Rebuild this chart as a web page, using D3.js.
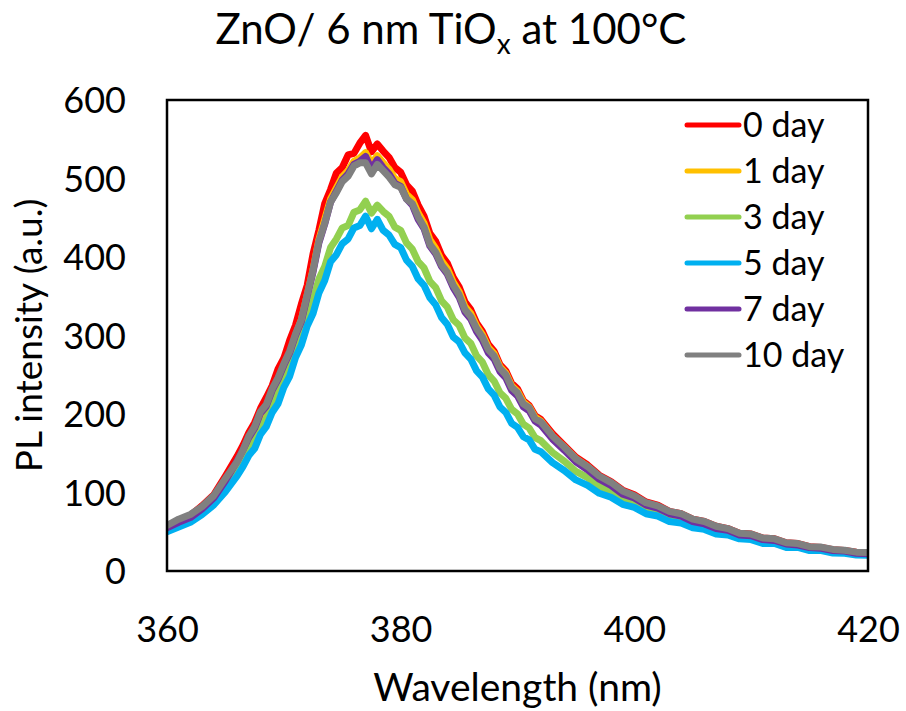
<!DOCTYPE html>
<html>
<head>
<meta charset="utf-8">
<script src="https://cdn.jsdelivr.net/npm/d3@7"></script>
<style>
  html, body { margin: 0; padding: 0; background: #fff; }
  svg text { font-family: Lato, "Open Sans", "Liberation Sans", sans-serif; fill: #000; }
</style>
</head>
<body>
<svg id="chart" width="906" height="711"></svg>
<script>
// Photoluminescence spectra of ZnO / 6 nm TiOx annealed at 100 °C, measured over 10 days
const wavelength = [360,361,362,363,364,365,366,
  366.5,367,367.5,368,368.5,369,369.5,370,370.5,371,371.5,372,372.5,373,373.5,374,374.5,375,375.5,376,
  376.5,377,377.5,378,378.5,379,379.5,380,380.5,381,381.5,382,382.5,383,383.5,384,384.5,385,385.5,386,
  386.5,387,387.5,388,388.5,389,389.5,390,390.5,391,391.5,392,
  393,394,395,396,397,398,399,400,401,402,403,404,405,406,407,408,409,410,411,412,413,414,415,416,417,418,419,420];

const day0 = [56,64,71,83,97,121,146,
  160,176,189,207,221,236,257,271,294,313,340,364,404,434,468,486,507,514,530,532,
  545,555,534,544,535,527,514,508,492,484,466,452,430,420,402,392,374,362,343,333,
  316,305,289,280,263,255,239,232,217,211,198,193,
  175,160,145,135,122,114,103,97,88,84,76,73,66,63,57,54,48,47,42,41,36,35,31,30,27,26,24,23];

const day1 = [54,61,67,78,91,112,137,
  150,166,177,196,206,226,240,260,276,300,320,352,384,422,448,474,488,502,510,522,
  526,533,519,529,520,512,500,496,480,473,456,443,422,411,395,385,368,356,337,328,
  312,301,285,277,260,252,236,229,215,209,196,191,
  172,158,143,133,120,112,101,95,86,82,74,71,64,62,55,53,47,46,41,40,35,34,30,29,26,25.5,23,22.5];

const day3 = [52,58,65,75,88,106,127,
  140,155,165,183,194,213,225,247,261,285,301,327,345,372,388,412,423,437,440,457,
  460,471,456,466,458,452,438,434,418,410,394,386,369,361,344,336,320,313,297,290,
  274,266,250,242,227,220,206,200,187,182,170,166,
  151,140,127,119,108,102,93,88,80,76,69,66,60,58,52,50,45,44,39,38,34,33,29,28.5,25.5,25,22.5,22];

const day5 = [50,56,62,72,84,101,121,
  133,147,156,174,184,202,213,234,248,272,288,312,328,354,370,394,403,417,423,437,
  440,452,436,448,434,428,416,412,396,388,372,364,348,339,323,314,298,292,278,270,
  255,247,232,224,209,202,188,183,171,167,155,152,
  138,128,116,109,99,94,85,81,73,70,63,61,55,53,47,46,41,40,35,35,30,30,26,26,23,22.5,20.5,20];

const day7 = [55,62,68,79,93,115,140,
  154,170,182,201,210,230,244,262,278,300,318,350,381,418,442,470,484,498,506,518,
  522,528,512,524,514,506,494,490,474,466,448,436,414,404,388,378,361,349,330,321,
  305,294,278,270,254,246,230,223,209,204,191,186,
  168,154,139,129,117,109,98,93,84,80,73,70,63,60,54,52,46,45,40,39,34.5,33,30,29,26,25.5,22.5,22];

const day10 = [58,66,72,82,96,118,139,
  154,172,184,203,212,232,246,264,280,302,320,352,383,420,443,470,482,496,503,516,
  520,520,506,518,510,502,492,489,474,468,451,438,416,406,390,380,364,352,333,324,
  309,298,282,274,258,250,234,227,213,208,194,190,
  172,158,143,133,121,113,102,96,87,83,76,73,66,63,57,54,48,47,42,41,36,35,31,30.5,27.5,26.5,24,23.5];

const seriesNames = ["0 day", "1 day", "3 day", "5 day", "7 day", "10 day"];
const seriesColors = ["#FF0000", "#FFC000", "#92D050", "#00B0F0", "#7030A0", "#808080"];
const seriesValues = [day0, day1, day3, day5, day7, day10];

const xTicks = [360, 380, 400, 420];
const yTicks = [0, 100, 200, 300, 400, 500, 600];

const svg = d3.select("#chart");
const plot = { left: 167, right: 868, top: 100, bottom: 571 };

const x = d3.scaleLinear().domain([360, 420]).range([plot.left, plot.right]);
const y = d3.scaleLinear().domain([0, 600]).range([plot.bottom, plot.top]);

svg.append("defs").append("clipPath").attr("id", "plot-clip")
  .append("rect")
  .attr("x", plot.left).attr("y", plot.top)
  .attr("width", plot.right - plot.left).attr("height", plot.bottom - plot.top);

// spectra, drawn in series order so the last day sits on top
const line = d3.line()
  .x((d, i) => x(wavelength[i]))
  .y(d => y(d));

const curves = svg.append("g").attr("clip-path", "url(#plot-clip)");
seriesValues.forEach((vals, k) => {
  curves.append("path")
    .datum(vals)
    .attr("d", line)
    .attr("fill", "none")
    .attr("stroke", seriesColors[k])
    .attr("stroke-width", 7)
    .attr("stroke-linejoin", "round")
    .attr("stroke-linecap", "round");
});

// axes: labels only, the plot frame is drawn separately
const xAxis = svg.append("g")
  .attr("transform", `translate(0,${plot.bottom})`)
  .call(d3.axisBottom(x).tickValues(xTicks).tickSize(0).tickPadding(0).tickFormat(d3.format("d")));
xAxis.select(".domain").remove();
xAxis.selectAll("text")
  .attr("y", 71)
  .attr("dy", null)
  .attr("font-size", 36)
  .style("font-family", "Lato, 'Open Sans', sans-serif")
  .attr("fill", "#000");

const yAxis = svg.append("g")
  .attr("transform", `translate(${plot.left},0)`)
  .call(d3.axisLeft(y).tickValues(yTicks).tickSize(0).tickPadding(0).tickFormat(d3.format("d")));
yAxis.select(".domain").remove();
yAxis.selectAll("text")
  .attr("x", -41)
  .attr("dy", "0.36em")
  .attr("font-size", 36)
  .style("font-family", "Lato, 'Open Sans', sans-serif")
  .attr("fill", "#000");

// plot frame
svg.append("rect")
  .attr("x", plot.left).attr("y", plot.top)
  .attr("width", plot.right - plot.left).attr("height", plot.bottom - plot.top)
  .attr("fill", "none")
  .attr("stroke", "#000")
  .attr("stroke-width", 2.5);

// title with subscript
const title = svg.append("text")
  .attr("x", 451).attr("y", 44)
  .attr("text-anchor", "middle")
  .attr("font-size", 42);
title.append("tspan").text("ZnO/ 6 nm TiO");
title.append("tspan").text("x").attr("font-size", 28).attr("dy", 10);
title.append("tspan").text(" at 100°C").attr("dy", -10);

// axis titles
svg.append("text")
  .attr("x", (plot.left + plot.right) / 2).attr("y", 701)
  .attr("text-anchor", "middle")
  .attr("font-size", 39)
  .text("Wavelength (nm)");

svg.append("text")
  .attr("transform", `translate(42,${(plot.top + plot.bottom) / 2}) rotate(-90)`)
  .attr("text-anchor", "middle")
  .attr("font-size", 37)
  .text("PL intensity (a.u.)");

// legend
const legend = svg.append("g");
seriesNames.forEach((name, k) => {
  const cy = 125 + k * 46;
  legend.append("line")
    .attr("x1", 687).attr("x2", 739)
    .attr("y1", cy).attr("y2", cy)
    .attr("stroke", seriesColors[k])
    .attr("stroke-width", 5)
    .attr("stroke-linecap", "round");
  legend.append("text")
    .attr("x", 743).attr("y", cy)
    .attr("dy", "0.36em")
    .attr("font-size", 34)
    .text(name);
});
</script>
</body>
</html>
